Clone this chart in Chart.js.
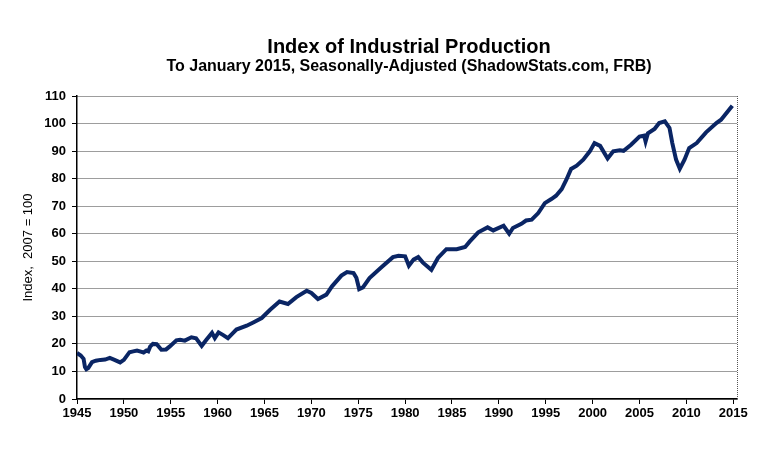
<!DOCTYPE html>
<html lang="en">
<head>
	<meta charset="utf-8" />
	<title>Index of Industrial Production</title>
	<script src="https://cdn.jsdelivr.net/npm/chart.js@4.4.1/dist/chart.umd.min.js"></script>
	<style>
		html, body { margin: 0; padding: 0; background: #fff; }
		#wrap { width: 781px; height: 464px; }
	</style>
</head>
<body>
	<div id="wrap"><canvas id="c1"></canvas></div>
	<script>
	// values (decimal year, index 2007 = 100)
	var years = [
		1945.0, 1945.4, 1945.7, 1945.85, 1946.0, 1946.2, 1946.6, 1947.0, 1947.5, 1948.0,
		1948.5, 1949.0, 1949.6, 1950.0, 1950.6, 1951.0, 1951.4, 1951.8, 1952.1, 1952.4,
		1952.6, 1952.8, 1953.1, 1953.5, 1954.0, 1954.5, 1954.9, 1955.6, 1956.0, 1956.5,
		1957.2, 1957.7, 1958.3, 1958.8, 1959.4, 1959.7, 1960.1, 1960.6, 1961.1, 1961.6,
		1962.0, 1963.1, 1963.8, 1964.7, 1965.6, 1966.6, 1967.5, 1968.4, 1969.5, 1970.0,
		1970.7, 1971.6, 1972.2, 1973.2, 1973.8, 1974.5, 1974.8, 1975.1, 1975.5, 1976.2,
		1977.5, 1978.7, 1979.3, 1980.0, 1980.4, 1980.9, 1981.4, 1981.9, 1982.8, 1983.5,
		1984.4, 1985.5, 1986.4, 1986.9, 1987.8, 1988.8, 1989.4, 1990.5, 1991.1, 1991.5,
		1992.4, 1992.9, 1993.5, 1994.2, 1994.9, 1995.6, 1996.1, 1996.7, 1997.2, 1997.7,
		1998.3, 1999.0, 1999.7, 2000.2, 2000.8, 2001.6, 2002.2, 2002.9, 2003.3, 2004.1,
		2005.0, 2005.5, 2005.65, 2005.9, 2006.6, 2007.1, 2007.7, 2008.2, 2008.5, 2008.9,
		2009.3, 2009.8, 2010.3, 2011.1, 2012.1, 2013.2, 2013.7, 2014.9
	];
	var values = [
		16.7, 15.8, 14.6, 11.6, 10.8, 11.2, 13.4, 13.9, 14.2, 14.3,
		14.9, 14.2, 13.3, 14.2, 17.0, 17.3, 17.6, 17.2, 16.9, 17.6,
		17.3, 19.0, 20.0, 19.9, 17.9, 18.0, 19.1, 21.3, 21.5, 21.2,
		22.4, 22.0, 19.3, 21.5, 24.0, 22.1, 24.2, 23.2, 22.1, 23.8,
		25.2, 26.6, 27.8, 29.4, 32.4, 35.4, 34.5, 37.0, 39.3, 38.5,
		36.3, 37.9, 40.9, 44.8, 46.1, 45.7, 44.0, 39.9, 40.5, 43.9,
		47.9, 51.5, 52.0, 51.8, 48.4, 50.6, 51.5, 49.5, 46.9, 51.2,
		54.4, 54.4, 55.2, 57.2, 60.5, 62.3, 61.2, 62.9, 60.0, 62.1,
		63.6, 64.8, 65.1, 67.5, 71.1, 72.6, 73.8, 76.2, 79.6, 83.5,
		84.7, 86.9, 89.9, 92.9, 91.9, 87.3, 89.9, 90.3, 90.1, 92.3,
		95.3, 95.6, 93.5, 96.5, 98.0, 100.2, 100.8, 98.4, 92.9, 86.9,
		83.6, 86.9, 91.1, 92.9, 96.8, 100.2, 101.4, 106.5
	];
	var titleText = 'Index of Industrial Production';
	var subtitleText = 'To January 2015, Seasonally-Adjusted (ShadowStats.com, FRB)';
	var yTitle = 'Index,  2007 = 100';

	var points = years.map(function(yr, i) { return {x: yr, y: values[i]}; });

	// titles centred over the plot, plus the dotted right frame
	var frame = {
		id: 'frame',
		afterDraw: function(chart) {
			var ctx = chart.ctx, a = chart.chartArea;
			var cx = (a.left + a.right) / 2 + 2;
			ctx.save();
			ctx.fillStyle = '#000';
			ctx.textAlign = 'center';
			ctx.textBaseline = 'alphabetic';
			ctx.font = 'bold 20px "Liberation Sans", Arial, sans-serif';
			ctx.fillText(titleText, cx, 53);
			ctx.font = 'bold 16px "Liberation Sans", Arial, sans-serif';
			ctx.fillText(subtitleText, cx, 71);
			ctx.strokeStyle = '#555';
			ctx.lineWidth = 1;
			ctx.setLineDash([1, 1]);
			ctx.beginPath();
			ctx.moveTo(Math.round(a.right) + 0.5, a.top);
			ctx.lineTo(Math.round(a.right) + 0.5, a.bottom);
			ctx.stroke();
			ctx.restore();
		}
	};

	var config = {
		type: 'line',
		plugins: [frame],
		data: {
			datasets: [{
				label: 'Industrial Production',
				data: points,
				borderColor: '#0a2564',
				borderWidth: 4,
				pointRadius: 0,
				tension: 0,
				fill: false
			}]
		},
		options: {
			responsive: true,
			maintainAspectRatio: false,
			animation: false,
			layout: {
				padding: {left: 17, right: 44, top: 96, bottom: 35}
			},
			plugins: {
				legend: {display: false},
				tooltip: {enabled: false}
			},
			scales: {
				x: {
					type: 'linear',
					min: 1945,
					max: 2015.4,
					afterFit: function(s) { s.height = 30; },
					ticks: {
						stepSize: 5,
						includeBounds: false,
						padding: 2,
						color: '#000',
						maxRotation: 0,
						font: {family: '"Liberation Sans", Arial, sans-serif', size: 13, weight: 'bold'},
						callback: function(v) { return String(v); }
					},
					grid: {
						drawOnChartArea: false,
						tickLength: 5,
						tickColor: '#000'
					},
					border: {color: '#000', width: 1.5}
				},
				y: {
					min: 0,
					max: 110,
					afterFit: function(s) { s.width = 60; },
					ticks: {
						stepSize: 10,
						padding: 6,
						color: '#000',
						font: {family: '"Liberation Sans", Arial, sans-serif', size: 13, weight: 'bold'}
					},
					grid: {
						color: '#3a3a3a',
						lineWidth: 1,
						tickLength: 5,
						tickColor: '#000',
						tickBorderDash: []
					},
					border: {color: '#000', width: 1.5, dash: [1, 1]},
					title: {
						display: true,
						text: yTitle,
						color: '#000',
						padding: {top: 4, bottom: 4},
						font: {family: '"Liberation Sans", Arial, sans-serif', size: 13}
					}
				}
			}
		}
	};

	var chart = new Chart(document.getElementById('c1'), config);
	</script>
</body>
</html>
